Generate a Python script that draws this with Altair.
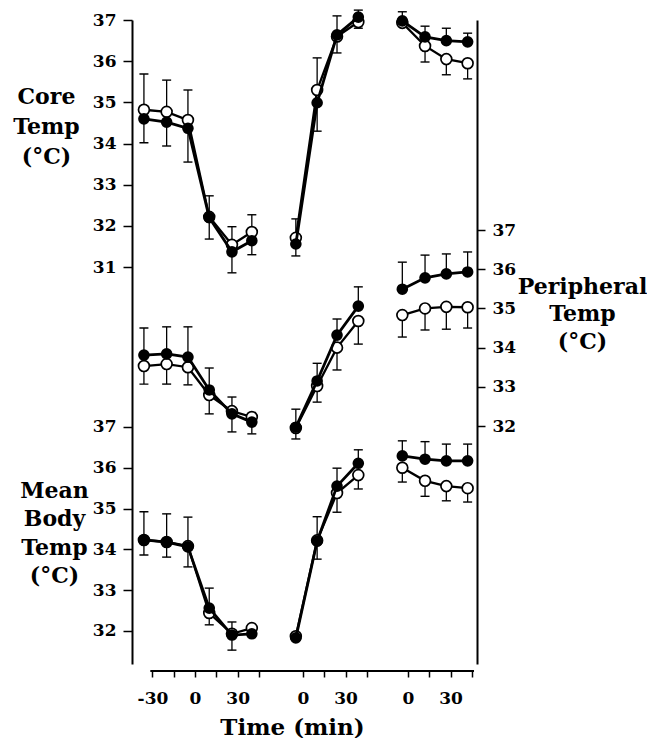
import altair as alt
import pandas as pd

# ---------------- data ----------------
# measurement times (min) within each of the three periods
seg1_t = [-36, -20, -5, 10, 26, 40]
seg2_t = [-5, 10, 24, 39]
seg3_t = [-4, 12, 27, 42]

# Core temperature (deg C): values and error-bar tips (period 1 | 2 | 3)
core_filled = [34.60, 34.52, 34.37, 32.20, 31.37, 31.64, 31.56, 34.99, 36.64, 37.07, 36.98, 36.59, 36.50, 36.47]
core_filled_tip = [34.02, 33.94, 33.55, 31.68, 30.86, 31.30, 31.27, 34.30, 36.20, 37.24, 37.20, 36.85, 36.80, 36.68]
core_open = [34.82, 34.77, 34.57, 32.22, 31.54, 31.85, 31.71, 35.30, 36.60, 36.95, 36.93, 36.37, 36.05, 35.95]
core_open_tip = [35.69, 35.54, 35.30, 32.73, 31.98, 32.27, 32.17, 36.08, 37.10, 36.80, 36.93, 35.98, 35.67, 35.57]

# Peripheral temperature (deg C)
per_filled = [33.81, 33.84, 33.76, 32.92, 32.31, 32.10, 31.97, 33.15, 34.32, 35.06, 35.49, 35.78, 35.88, 35.93]
per_filled_tip = [34.50, 34.53, 34.53, 33.48, 31.85, 31.80, 32.43, 33.60, 34.73, 35.55, 36.18, 36.36, 36.39, 36.44]
per_open = [33.53, 33.58, 33.50, 32.79, 32.38, 32.23, 31.95, 33.02, 34.00, 34.68, 34.83, 35.00, 35.04, 35.03]
per_open_tip = [33.07, 33.07, 33.05, 32.31, 32.74, 32.30, 31.67, 32.61, 33.43, 34.09, 34.27, 34.45, 34.47, 34.50]

# Mean body temperature (deg C)
mb_filled = [34.23, 34.18, 34.06, 32.56, 31.90, 31.93, 31.83, 34.20, 35.55, 36.11, 36.29, 36.21, 36.17, 36.17]
mb_filled_tip = [34.92, 34.87, 34.79, 33.05, 32.22, 31.88, 31.90, 34.80, 35.99, 36.44, 36.66, 36.64, 36.58, 36.58]
mb_open = [34.23, 34.18, 34.08, 32.44, 31.93, 32.07, 31.87, 34.22, 35.38, 35.82, 36.00, 35.68, 35.55, 35.50]
mb_open_tip = [33.86, 33.81, 33.57, 32.15, 31.53, 32.12, 31.80, 33.76, 34.91, 35.48, 35.65, 35.30, 35.19, 35.16]

# x-axis ticks and labels for each period
seg1_ticks = [-30, -15, 0, 15, 30, 45]
seg1_labels = ["-30", "", "0", "", "30", ""]
seg23_ticks = [0, 15, 30, 45]
seg23_labels = ["0", "", "30", ""]

core_ticks = [31, 32, 33, 34, 35, 36, 37]
per_ticks = [32, 33, 34, 35, 36, 37]
mb_ticks = [32, 33, 34, 35, 36, 37]

# ---------------- layout ----------------
SEG_OFFSET = {1: 0, 2: 76, 3: 150}   # where each period sits on the shared time axis
W, H = 345, 644
FONT = "DejaVu Serif"

seg_of = [1] * len(seg1_t) + [2] * len(seg2_t) + [3] * len(seg3_t)
t_of = seg1_t + seg2_t + seg3_t

tick_pos = ([SEG_OFFSET[1] + t for t in seg1_ticks]
            + [SEG_OFFSET[2] + t for t in seg23_ticks]
            + [SEG_OFFSET[3] + t for t in seg23_ticks])
tick_lab = seg1_labels + seg23_labels + seg23_labels
label_expr = "[" + ",".join("'%s'" % s for s in tick_lab) + "][indexof([" + \
    ",".join(str(v) for v in tick_pos) + "], datum.value)]"


def panel_df(filled, ftip, opn, otip):
    rows = []
    for series, vals, tips in (("filled", filled, ftip), ("open", opn, otip)):
        for i, (v, tp) in enumerate(zip(vals, tips)):
            s = seg_of[i]
            rows.append(dict(series=series, seg=s, x=SEG_OFFSET[s] + t_of[i], value=v, tip=tp))
    return pd.DataFrame(rows)


x_scale = alt.Scale(domain=[-44.4, 198.6], nice=False, zero=False)
x_axis = alt.Axis(values=tick_pos, labelExpr=label_expr, domain=False, grid=False,
                  tickSize=6, tickWidth=1.5, tickColor="black",
                  labelFont=FONT, labelFontSize=17, labelFontWeight="bold", labelColor="black",
                  labelPadding=13, labelOverlap=False, labelFlush=False, offset=7,
                  title="Time (min)", titleFont=FONT, titleFontSize=23, titleFontWeight="bold",
                  titleColor="black", titleX=160, titleY=63, titleAlign="center",
                  titleBaseline="alphabetic", titleAngle=0)
X = alt.X("x:Q", scale=x_scale, axis=x_axis)


def y_axis(orient, values, title, tx, ty, lh, domain=True, tick=9, pad=7):
    return alt.Axis(orient=orient, values=values, format="d", grid=False,
                    domain=domain, domainWidth=2, domainColor="black",
                    tickSize=tick, tickWidth=1.5, tickColor="black",
                    labelFont=FONT, labelFontSize=17, labelFontWeight="bold", labelColor="black",
                    labelPadding=pad, title=title, titleFont=FONT, titleFontSize=22,
                    titleFontWeight="bold", titleColor="black", titleAngle=0,
                    titleAlign="center", titleBaseline="alphabetic",
                    titleX=tx, titleY=ty, titleLineHeight=lh)


def panel(df, scale, axis):
    base = alt.Chart(df)
    yv = alt.Y("value:Q", scale=scale, axis=axis)
    yt = alt.Y("tip:Q", scale=scale, axis=axis)
    bars = base.mark_rule(color="black", strokeWidth=1.3).encode(x=X, y=yv, y2="tip:Q")
    caps = base.mark_tick(orient="horizontal", size=9, thickness=1.4, color="black", opacity=1).encode(x=X, y=yt)
    o = base.transform_filter(alt.datum.series == "open")
    f = base.transform_filter(alt.datum.series == "filled")
    oline = o.mark_line(color="black", strokeWidth=2.3).encode(x=X, y=yv, detail="seg:N")
    opts = o.mark_circle(fill="white", stroke="black", strokeWidth=1.7, size=118, opacity=1).encode(x=X, y=yv)
    fline = f.mark_line(color="black", strokeWidth=2.8).encode(x=X, y=yv, detail="seg:N")
    fpts = f.mark_circle(color="black", size=135, opacity=1).encode(x=X, y=yv)
    return alt.layer(bars, caps, oline, opts, fline, fpts)


core = panel(panel_df(core_filled, core_filled_tip, core_open, core_open_tip),
             alt.Scale(domain=[21.36, 37.0], nice=False, zero=False),
             y_axis("left", core_ticks, ["Core", "Temp", "(°C)"], -86, 83, 30))
per = panel(panel_df(per_filled, per_filled_tip, per_open, per_open_tip),
            alt.Scale(domain=[25.93, 42.357], nice=False, zero=False),
            y_axis("right", per_ticks, ["Peripheral", "Temp", "(°C)"], 105, 273, 27.5, tick=8, pad=7))
mb = panel(panel_df(mb_filled, mb_filled_tip, mb_open, mb_open_tip),
           alt.Scale(domain=[31.19, 46.975], nice=False, zero=False),
           y_axis("left", mb_ticks, ["Mean", "Body", "Temp", "(°C)"], -78, 477, 28.5, domain=False))

# bottom axis line spanning the tick range only
axis_line_df = pd.DataFrame({"x": [min(tick_pos) - 1.5], "x2": [max(tick_pos) + 1.5]})
axis_line = alt.Chart(axis_line_df).mark_rule(color="black", strokeWidth=2).encode(
    x=X, x2="x2:Q", y=alt.value(H + 7))

chart = alt.layer(core, per, mb, axis_line).resolve_scale(y="independent").properties(
    width=W, height=H,
    padding={"left": 124, "top": 12, "right": 170, "bottom": 74},
    autosize=alt.AutoSizeParams(type="none"),
    background="white",
).configure_view(strokeWidth=0)

chart.save("out.html", embed_options={"renderer": "svg", "actions": False})
